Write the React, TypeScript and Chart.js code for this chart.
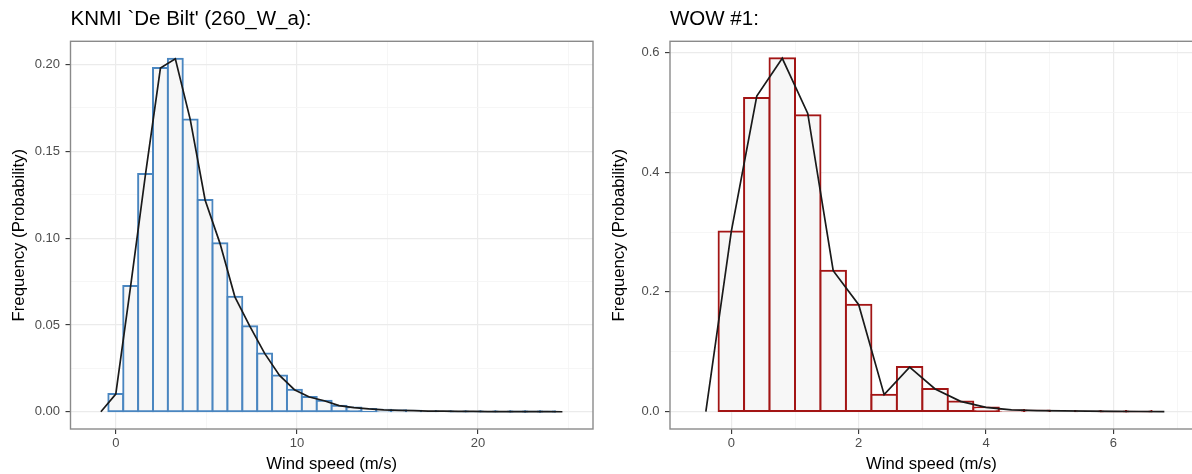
import React, { useEffect, useRef } from 'react';
import { Chart, registerables } from 'chart.js';

Chart.register(...registerables);

// ---------- data ----------
const knmiTitle = "KNMI `De Bilt' (260_W_a):";
const knmiBinCenters = [
  0, 0.822, 1.644, 2.466, 3.288, 4.11, 4.932, 5.754, 6.576, 7.398,
  8.22, 9.042, 9.864, 10.686, 11.508, 12.33, 13.152, 13.974, 14.796, 15.618,
  16.44, 17.262, 18.084, 18.906, 19.728, 20.55, 21.372, 22.194, 23.016, 23.838,
];
const knmiFrequency = [
  0.0102, 0.0725, 0.137, 0.198, 0.2033, 0.1684, 0.122, 0.097, 0.0662, 0.0493,
  0.0336, 0.0209, 0.0127, 0.0085, 0.0063, 0.0035, 0.0024, 0.0016, 0.0011, 0.0008,
  0.0006, 0.0004, 0.0003, 0.0002, 0.00015, 0.0001, 0.0001, 0.00005, 0.00005, 0.00003,
];
const knmiPolyEnds = [-0.822, 24.66];
const knmiXRange = [-2.5, 26.35];
const knmiYRange = [-0.00995, 0.2134];
const knmiXTicks = [0, 10, 20];
const knmiXTickLabels = ['0', '10', '20'];
const knmiXMinor = [5, 15, 25];
const knmiYTicks = [0, 0.05, 0.1, 0.15, 0.2];
const knmiYTickLabels = ['0.00', '0.05', '0.10', '0.15', '0.20'];
const knmiYMinor = [0.025, 0.075, 0.125, 0.175];

const wowTitle = 'WOW #1:';
const wowBinCenters = [
  0, 0.4, 0.8, 1.2, 1.6, 2.0, 2.4, 2.8, 3.2, 3.6, 4.0, 4.4, 4.8, 5.2, 5.6, 6.0, 6.4,
];
const wowFrequency = [
  0.301, 0.5237, 0.59, 0.495, 0.2354, 0.1786, 0.0284, 0.0745, 0.0379, 0.0172,
  0.0072, 0.003, 0.0018, 0.0012, 0.0008, 0.0005, 0.0003,
];
const wowLineFrequency = [
  0.301, 0.527, 0.59, 0.498, 0.2354, 0.1786, 0.0284, 0.0745, 0.0379, 0.0172,
  0.0072, 0.003, 0.0018, 0.0012, 0.0008, 0.0005, 0.0003,
];
const wowPolyEnds = [-0.4, 6.8];
const wowXRange = [-0.963, 7.25];
const wowYRange = [-0.0289, 0.6184];
const wowXTicks = [0, 2, 4, 6];
const wowXTickLabels = ['0', '2', '4', '6'];
const wowXMinor = [1, 3, 5, 7];
const wowYTicks = [0, 0.2, 0.4, 0.6];
const wowYTickLabels = ['0.0', '0.2', '0.4', '0.6'];
const wowYMinor = [0.1, 0.3, 0.5];

const xTitle = 'Wind speed (m/s)';
const yTitle = 'Frequency (Probability)';

// ---------- styles ----------
const FONT = "'Liberation Sans', Arial, Helvetica, sans-serif";
const BAR_FILL = '#f7f7f7';
const KNMI_STROKE = '#4a86c0';
const WOW_STROKE = '#a31515';
const LINE_COLOR = '#1a1a1a';

type TickObj = { value: number; isMajor: boolean; label: string };

function buildTicks(major: number[], labels: string[], minor: number[]): TickObj[] {
  const t: TickObj[] = [
    ...major.map((v, i) => ({ value: v, isMajor: true, label: labels[i] })),
    ...minor.map((v) => ({ value: v, isMajor: false, label: '' })),
  ];
  return t.sort((a, b) => a.value - b.value);
}

const panelBorder = {
  id: 'panelBorder',
  afterDraw(chart: any) {
    const { ctx, chartArea } = chart;
    const { left, top, right, bottom } = chartArea;
    ctx.save();
    ctx.strokeStyle = '#8a8a8a';
    ctx.lineWidth = 1.4;
    ctx.strokeRect(left, top, right - left, bottom - top);
    ctx.restore();
  },
};

type PanelProps = {
  title: string;
  centers: number[];
  freq: number[];
  lineFreq: number[];
  ends: number[];
  xRange: number[];
  yRange: number[];
  xTicks: TickObj[];
  yTicks: TickObj[];
  stroke: string;
  yAxisWidth: number;
  left: number;
};

function gridOpts() {
  return {
    color: (c: any) => (c.tick && c.tick.isMajor ? '#ebebeb' : '#f4f4f4'),
    lineWidth: (c: any) => (c.tick && c.tick.isMajor ? 1.2 : 0.8),
    tickColor: (c: any) => (c.tick && c.tick.isMajor ? '#333333' : 'rgba(0,0,0,0)'),
    tickLength: 5,
    tickWidth: 1.1,
    drawTicks: true,
  };
}

function Panel(p: PanelProps) {
  const ref = useRef<HTMLCanvasElement | null>(null);
  useEffect(() => {
    if (!ref.current) return;
    const barData = p.centers.map((x, i) => ({ x, y: p.freq[i] }));
    const lineData = [
      { x: p.ends[0], y: 0 },
      ...p.centers.map((x, i) => ({ x, y: p.lineFreq[i] })),
      { x: p.ends[1], y: 0 },
    ];
    const chart = new Chart(ref.current, {
      type: 'bar',
      data: {
        datasets: [
          {
            type: 'line',
            data: lineData,
            borderColor: LINE_COLOR,
            borderWidth: 1.7,
            pointRadius: 0,
            tension: 0,
            fill: false,
            order: 0,
          } as any,
          {
            type: 'bar',
            data: barData,
            backgroundColor: BAR_FILL,
            borderColor: p.stroke,
            borderWidth: 2,
            borderSkipped: false,
            inflateAmount: 1,
            barPercentage: 1,
            categoryPercentage: 1,
            order: 1,
          } as any,
        ],
      },
      options: {
        animation: false,
        responsive: false,
        maintainAspectRatio: false,
        devicePixelRatio: 1,
        layout: { padding: { left: 0, right: 7, top: 0, bottom: 0 } },
        plugins: {
          legend: { display: false },
          tooltip: { enabled: false },
          title: {
            display: true,
            text: p.title,
            align: 'start',
            fullSize: false,
            color: '#000000',
            font: { family: FONT, size: 20.5, weight: 'normal' },
            padding: { top: 7, bottom: 9.7 },
          },
        },
        scales: {
          x: {
            type: 'linear',
            min: p.xRange[0],
            max: p.xRange[1],
            offset: false,
            afterBuildTicks: (s: any) => {
              s.ticks = p.xTicks.map((t) => ({ ...t }));
            },
            afterFit: (s: any) => {
              s.height = 45;
            },
            ticks: {
              autoSkip: false,
              maxRotation: 0,
              padding: 1.5,
              color: '#4d4d4d',
              font: { family: FONT, size: 13 },
              callback: (_v: any, i: number, ticks: any[]) => ticks[i].label,
            },
            grid: { ...gridOpts(), offset: false },
            border: { display: false },
            title: {
              display: true,
              text: xTitle,
              color: '#000000',
              font: { family: FONT, size: 16.7 },
              padding: { top: 0, bottom: 0 },
            },
          },
          y: {
            type: 'linear',
            min: p.yRange[0],
            max: p.yRange[1],
            afterBuildTicks: (s: any) => {
              s.ticks = p.yTicks.map((t) => ({ ...t }));
            },
            afterFit: (s: any) => {
              s.width = p.yAxisWidth;
            },
            ticks: {
              autoSkip: false,
              padding: 5.5,
              color: '#4d4d4d',
              font: { family: FONT, size: 13 },
              callback: (_v: any, i: number, ticks: any[]) => ticks[i].label,
            },
            grid: gridOpts(),
            border: { display: false },
            title: {
              display: true,
              text: yTitle,
              color: '#000000',
              font: { family: FONT, size: 16.7 },
              padding: { top: 9, bottom: 0 },
            },
          },
        },
      } as any,
      plugins: [panelBorder],
    });
    return () => chart.destroy();
  }, []);
  return (
    <canvas
      ref={ref}
      width={600}
      height={474}
      style={{ position: 'absolute', left: p.left, top: 0, width: 600, height: 474, display: 'block' }}
    />
  );
}

export default function App() {
  return (
    <div
      style={{
        position: 'absolute',
        left: 0,
        top: 0,
        width: 1192,
        height: 474,
        overflow: 'hidden',
        background: '#ffffff',
      }}
    >
      <Panel
        title={knmiTitle}
        centers={knmiBinCenters}
        freq={knmiFrequency}
        lineFreq={knmiFrequency}
        ends={knmiPolyEnds}
        xRange={knmiXRange}
        yRange={knmiYRange}
        xTicks={buildTicks(knmiXTicks, knmiXTickLabels, knmiXMinor)}
        yTicks={buildTicks(knmiYTicks, knmiYTickLabels, knmiYMinor)}
        stroke={KNMI_STROKE}
        yAxisWidth={70.5}
        left={0}
      />
      <Panel
        title={wowTitle}
        centers={wowBinCenters}
        freq={wowFrequency}
        lineFreq={wowLineFrequency}
        ends={wowPolyEnds}
        xRange={wowXRange}
        yRange={wowYRange}
        xTicks={buildTicks(wowXTicks, wowXTickLabels, wowXMinor)}
        yTicks={buildTicks(wowYTicks, wowYTickLabels, wowYMinor)}
        stroke={WOW_STROKE}
        yAxisWidth={70}
        left={600}
      />
    </div>
  );
}
